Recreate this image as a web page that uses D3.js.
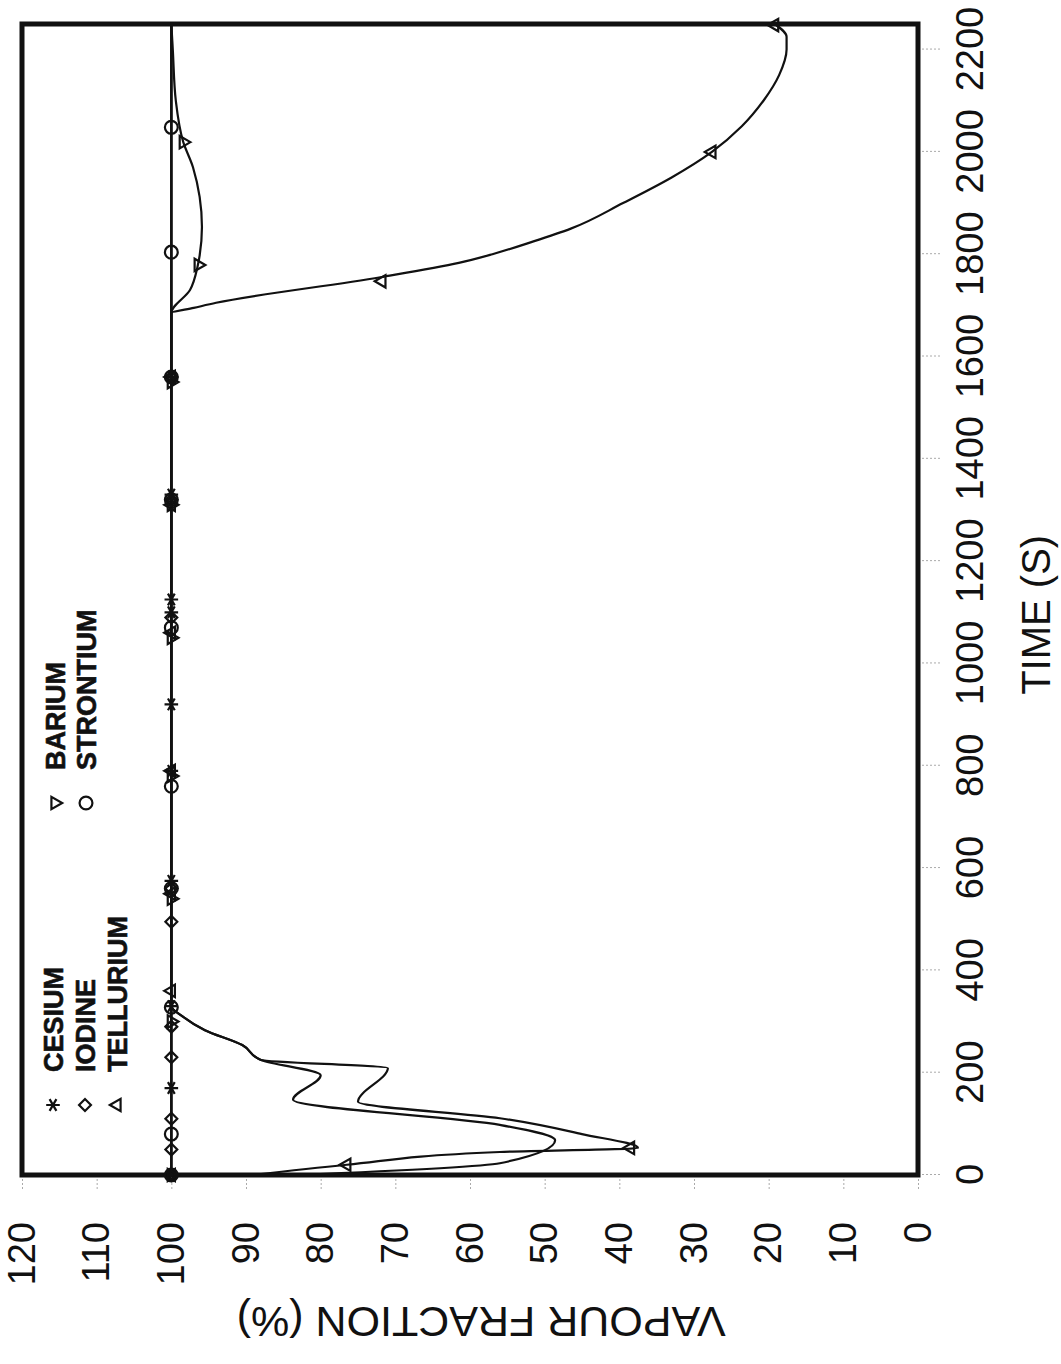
<!DOCTYPE html>
<html lang="en">
  <head>
    <meta charset="UTF-8" />
    <title>Vapour fraction vs time</title>
    <script src="https://d3js.org/d3.v7.min.js"></script>
    <style>
      body { margin: 0; background: #fff; }
      text { font-family: "Liberation Sans", Arial, sans-serif; fill: #111; }
    </style>
  </head>
  <body>
    <svg id="chart" width="1061" height="1364"></svg>
    <script>
      // axis ticks
      const timeTicks = [0, 200, 400, 600, 800, 1000, 1200, 1400, 1600, 1800, 2000, 2200];
      const fracTicks = [0, 10, 20, 30, 40, 50, 60, 70, 80, 90, 100, 110, 120];

      // curves [time (s), vapour fraction (%)]
      const cesiumLine = [[0, 100], [2250, 100]];
      const iodineLine = [[0, 100], [2250, 100]];
      const strontiumLine = [[0, 100], [2250, 100]];
      const telluriumLine = [
        [0, 89], [20, 76.5], [45, 56], [53, 37.5], [80, 45], [111, 56], [143, 75],
        [209, 71], [225, 88], [254, 90.5], [283, 95.5], [310, 98.5], [330, 100],
        [1685, 100], [1695, 97], [1705, 94], [1755, 72], [1783, 61.5], [1800, 57],
        [1825, 51.5], [1850, 46.5], [1900, 39.5], [1950, 33], [2000, 27.6], [2050, 23.6],
        [2100, 20.7], [2150, 18.6], [2200, 17.6], [2225, 17.6], [2250, 19.2]
      ];
      const bariumLine = [
        [0, 83], [23, 56], [68, 48.6], [98, 56], [147, 83.7], [195, 80],
        [225, 88], [254, 90.5], [283, 95.5], [310, 98.5], [330, 100],
        [1685, 100], [1730, 97.5], [1775, 96.5], [1853, 95.9], [1970, 97.1],
        [2019, 98.4], [2100, 99.4], [2199, 99.8], [2250, 100]
      ];

      // marker positions [time, fraction]
      const cesiumMarks = [[0, 100], [170, 100], [330, 100], [575, 100], [790, 100], [920, 100], [1100, 100], [1125, 100], [1330, 100], [1560, 100]];
      const iodineMarks = [[0, 100], [50, 100], [110, 100], [230, 100], [290, 100], [495, 100], [560, 100], [1090, 100], [1320, 100], [1560, 100]];
      const strontiumMarks = [[0, 100], [80, 100], [328, 100], [560, 100], [760, 100], [1070, 100], [1320, 100], [1560, 100], [1804, 100], [2048, 100]];
      const bariumMarks = [[0, 100], [300, 100], [540, 100], [780, 100], [1050, 100], [1310, 100], [1550, 100], [1779, 96.4], [2019, 98.4]];
      const telluriumMarks = [[0, 100], [20, 76.5], [53, 38.5], [360, 100], [550, 100], [790, 100], [1060, 100], [1310, 100], [1560, 100], [1747, 71.8], [2000, 27.6], [2248, 19.2]];

      const legendNames = ["CESIUM", "IODINE", "TELLURIUM", "BARIUM", "STRONTIUM"];

      const svg = d3.select("#chart");
      // the plot is drawn upright, then turned a quarter turn anticlockwise
      const W = 1151, H = 896;
      const g = svg.append("g").attr("transform", "translate(22,1175) rotate(-90)");

      const x = d3.scaleLinear().domain([0, 2250]).range([0, W]);
      const y = d3.scaleLinear().domain([0, 120]).range([H, 0]);

      // axes
      const xAxis = g.append("g")
        .attr("transform", `translate(0,${H})`)
        .call(d3.axisBottom(x).tickValues(timeTicks).tickFormat(d3.format("d")).tickSize(22).tickPadding(16));
      const yAxis = g.append("g")
        .call(d3.axisLeft(y).tickValues(fracTicks).tickFormat(d3.format("d")).tickSize(14).tickPadding(33));
      [xAxis, yAxis].forEach((a) => {
        a.select(".domain").remove();
        a.selectAll(".tick line").attr("stroke", "#aaa").attr("stroke-dasharray", "2,2");
        a.selectAll("text").style("font-size", "38px").attr("fill", "#111");
      });

      g.append("text")
        .attr("x", x(1095))
        .attr("y", H + 132)
        .attr("text-anchor", "middle")
        .style("font-size", "40px")
        .text("TIME (S)");

      g.append("text")
        .attr("transform", `translate(-132,${y(58.5)}) rotate(-90)`)
        .attr("text-anchor", "middle")
        .style("font-size", "43px")
        .text("VAPOUR FRACTION (%)");

      // curves
      const line = d3.line()
        .x((d) => x(d[0]))
        .y((d) => y(d[1]))
        .curve(d3.curveMonotoneX);

      const lines = [cesiumLine, iodineLine, strontiumLine, telluriumLine, bariumLine];
      g.selectAll("path.curve")
        .data(lines)
        .enter()
        .append("path")
        .attr("class", "curve")
        .attr("d", line)
        .attr("fill", "none")
        .attr("stroke", "#111")
        .attr("stroke-width", 2.2);

      // frame
      g.append("rect")
        .attr("width", W)
        .attr("height", H)
        .attr("fill", "none")
        .attr("stroke", "#111")
        .attr("stroke-width", 5);

      // symbols
      const star = d3.symbolAsterisk || d3.symbolCross;
      const symbols = {
        CESIUM: { type: star, size: 130, rot: 0 },
        IODINE: { type: d3.symbolDiamond2 || d3.symbolDiamond, size: 90, rot: 0 },
        TELLURIUM: { type: d3.symbolTriangle2 || d3.symbolTriangle, size: 110, rot: 0 },
        BARIUM: { type: d3.symbolTriangle2 || d3.symbolTriangle, size: 110, rot: 180 },
        STRONTIUM: { type: d3.symbolCircle, size: 130, rot: 0 }
      };
      const marks = {
        CESIUM: cesiumMarks,
        IODINE: iodineMarks,
        TELLURIUM: telluriumMarks,
        BARIUM: bariumMarks,
        STRONTIUM: strontiumMarks
      };

      function drawSymbol(sel, name) {
        const s = symbols[name];
        sel.attr("d", d3.symbol().type(s.type).size(s.size))
          .attr("fill", "none")
          .attr("stroke", "#111")
          .attr("stroke-width", 2.2);
      }

      legendNames.forEach((name) => {
        g.selectAll(null)
          .data(marks[name])
          .enter()
          .append("path")
          .attr("transform", (d) => `translate(${x(d[0])},${y(d[1])}) rotate(${symbols[name].rot})`)
          .call(drawSymbol, name);
      });

      // legend
      const legendPos = [
        { ox: 70, oy: 31 }, { ox: 70, oy: 63 }, { ox: 70, oy: 95 },
        { ox: 372, oy: 33 }, { ox: 372, oy: 64 }
      ];
      legendNames.forEach((name, i) => {
        const p = legendPos[i];
        g.append("path")
          .attr("transform", `translate(${p.ox},${p.oy}) rotate(${symbols[name].rot})`)
          .call(drawSymbol, name);
        g.append("text")
          .attr("x", p.ox + 33)
          .attr("y", p.oy + 10)
          .style("font-size", "27px")
          .style("font-weight", "bold")
          .attr("stroke", "#111")
          .attr("stroke-width", 0.6)
          .text(name);
      });
    </script>
  </body>
</html>
